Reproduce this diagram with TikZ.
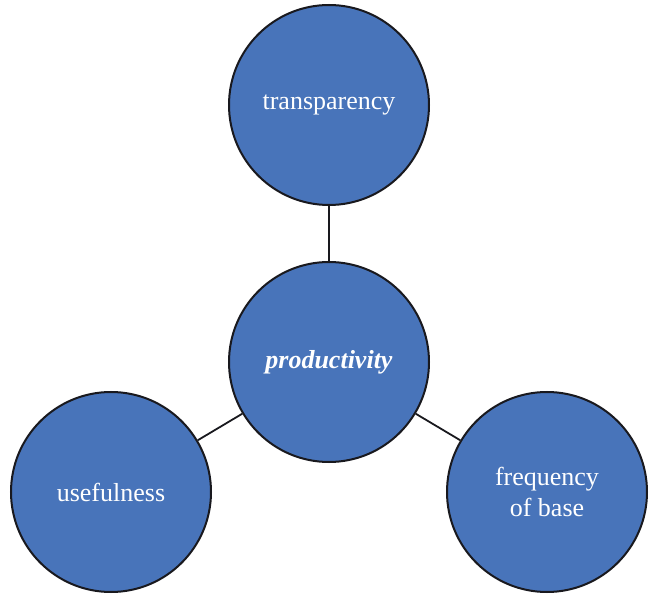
\documentclass[tikz,border=0pt]{standalone}
\usepackage{fontspec}
\setmainfont{Liberation Serif}
\definecolor{circfill}{RGB}{72,116,186}
\definecolor{circline}{RGB}{25,25,30}
\tikzset{
  bubble/.style={circle, draw=circline, line width=2pt, fill=circfill, minimum size=200pt, inner sep=0pt,
    text=white, font=\fontsize{26}{31}\selectfont, align=center},
  link/.style={draw=circline, line width=1.8pt}
}
\begin{document}
\begin{tikzpicture}[x=1pt,y=1pt]
\useasboundingbox (0,0) rectangle (654,598);
\node[bubble] (top) at (329,493) {transparency};
\node[bubble] (mid) at (329,236) {\textbf{\textit{productivity}}};
\node[bubble] (left) at (111,106) {usefulness};
\node[bubble] (right) at (547,106) {frequency\\of base};
\draw[link] (top) -- (mid);
\draw[link] (mid) -- (left);
\draw[link] (mid) -- (right);
\end{tikzpicture}
\end{document}
